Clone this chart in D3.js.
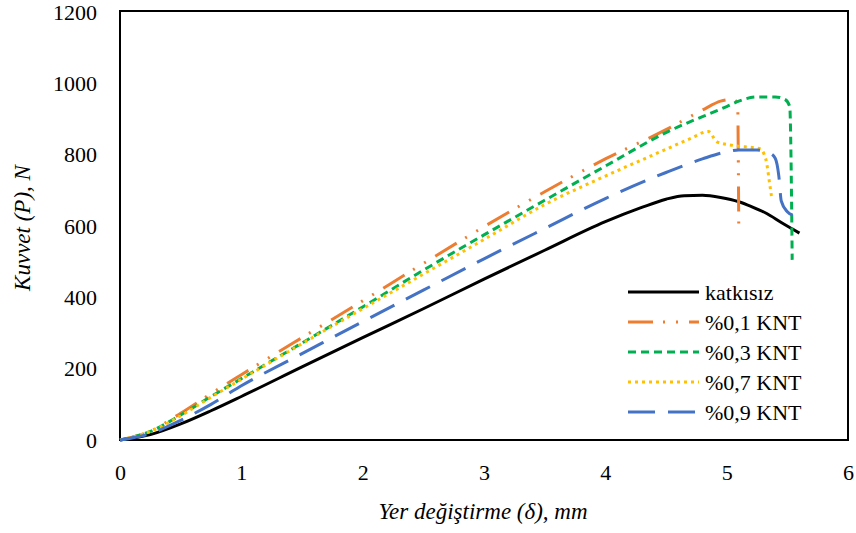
<!DOCTYPE html>
<html>
<head>
<meta charset="utf-8">
<script src="https://cdn.jsdelivr.net/npm/d3@7"></script>
<style>
  body { margin: 0; background: #fff; }
</style>
</head>
<body>
<svg id="chart" width="856" height="533"></svg>
<script>
// Series data (x: mm, y: N)
const katkisizX = [0, 0.25, 0.5, 0.75, 1, 1.5, 2, 2.5, 3, 3.5, 4, 4.3, 4.5, 4.65, 4.8, 4.95, 5.1, 5.2, 5.33, 5.45, 5.55, 5.6];
const katkisizY = [0, 15, 45, 82, 122, 205, 287, 368, 451, 532, 612, 652, 675, 685, 686, 680, 668, 655, 635, 610, 590, 580];

const knt01X = [0, 0.25, 0.5, 0.75, 1, 1.5, 2, 2.5, 3, 3.5, 4, 4.5, 4.8, 4.95, 5.05, 5.09, 5.1];
const knt01Y = [0, 25, 75, 130, 183, 287, 390, 495, 598, 696, 788, 870, 925, 950, 955, 945, 582];

const knt03X = [0, 0.25, 0.5, 0.75, 1, 1.5, 2, 2.5, 3, 3.5, 4, 4.5, 5.0, 5.1, 5.25, 5.4, 5.48, 5.52, 5.53, 5.54];
const knt03Y = [0, 24, 70, 122, 172, 272, 373, 476, 575, 672, 768, 862, 935, 950, 962, 962, 955, 935, 800, 505];

const knt07X = [0, 0.25, 0.5, 0.75, 1, 1.5, 2, 2.5, 3, 3.5, 4, 4.5, 4.7, 4.85, 4.92, 5.05, 5.28, 5.31, 5.33, 5.35, 5.37];
const knt07Y = [0, 24, 68, 120, 170, 270, 368, 465, 562, 660, 740, 815, 845, 865, 836, 826, 816, 800, 776, 729, 682];

const knt09X = [0, 0.25, 0.5, 0.75, 1, 1.5, 2, 2.5, 3, 3.5, 4, 4.5, 4.8, 5.0, 5.1, 5.25, 5.35, 5.4, 5.43, 5.45, 5.5, 5.55];
const knt09Y = [0, 18, 55, 100, 152, 242, 332, 420, 508, 593, 677, 750, 788, 808, 813, 813, 805, 790, 740, 670, 640, 630];

const seriesNames = ["katkısız", "%0,1 KNT", "%0,3 KNT", "%0,7 KNT", "%0,9 KNT"];
const xTicks = [0, 1, 2, 3, 4, 5, 6];
const yTicks = [0, 200, 400, 600, 800, 1000, 1200];

const FONT = "Liberation Serif, DejaVu Serif, serif";

const series = [
  { name: seriesNames[0], xs: katkisizX, ys: katkisizY, color: "#000000", dash: null },
  { name: seriesNames[1], xs: knt01X,    ys: knt01Y,    color: "#ED7D31", dash: "25,10,2,11,2,11" },
  { name: seriesNames[2], xs: knt03X,    ys: knt03Y,    color: "#00B050", dash: "8,5" },
  { name: seriesNames[3], xs: knt07X,    ys: knt07Y,    color: "#FFC000", dash: "3,4" },
  { name: seriesNames[4], xs: knt09X,    ys: knt09Y,    color: "#4472C4", dash: "27,13" }
];

const svg = d3.select("#chart");
const M = { left: 120, top: 11, right: 848, bottom: 440 };

const x = d3.scaleLinear().domain([0, 6]).range([M.left, M.right]);
const y = d3.scaleLinear().domain([0, 1200]).range([M.bottom, M.top + 1]);

/* ── Frame ─────────────────────────────── */
svg.append("rect")
  .attr("x", M.left).attr("y", M.top)
  .attr("width", M.right - M.left).attr("height", M.bottom - M.top)
  .attr("fill", "none").attr("stroke", "#000").attr("stroke-width", 2);

/* ── Axes (labels only, no tick marks) ─── */
const xAxis = svg.append("g")
  .attr("transform", `translate(0,${M.bottom})`)
  .call(d3.axisBottom(x).tickValues(xTicks).tickSize(0).tickPadding(24).tickFormat(d3.format("d")));
xAxis.select(".domain").remove();
xAxis.selectAll("text").attr("fill", "#000")
  .style("font-family", FONT).style("font-size", "22px");

const yAxis = svg.append("g")
  .attr("transform", `translate(${M.left},0)`)
  .call(d3.axisLeft(y).tickValues(yTicks).tickSize(0).tickPadding(23).tickFormat(d3.format("d")));
yAxis.select(".domain").remove();
yAxis.selectAll("text").attr("fill", "#000")
  .style("font-family", FONT).style("font-size", "22px");

/* ── Axis titles ───────────────────────── */
svg.append("text")
  .attr("x", 483).attr("y", 519)
  .attr("text-anchor", "middle")
  .style("font-family", FONT)
  .style("font-size", "23px").style("font-style", "italic")
  .text("Yer değiştirme (δ), mm");

svg.append("text")
  .attr("transform", "translate(30,228) rotate(-90)")
  .attr("text-anchor", "middle")
  .style("font-family", FONT)
  .style("font-size", "23px").style("font-style", "italic")
  .text("Kuvvet (P), N");

/* ── Lines ─────────────────────────────── */
const line = d3.line()
  .x(d => x(d[0]))
  .y(d => y(d[1]))
  .curve(d3.curveMonotoneX);

const lines = svg.append("g");
for (const s of series) {
  const pts = s.xs.map((v, i) => [v, s.ys[i]]);
  lines.append("path")
    .attr("d", line(pts))
    .attr("fill", "none")
    .attr("stroke", s.color)
    .attr("stroke-width", 3)
    .attr("stroke-linejoin", "round")
    .attr("stroke-dasharray", s.dash);
}

/* ── Legend ────────────────────────────── */
const legend = svg.append("g").attr("transform", "translate(628,292)");
series.forEach((s, i) => {
  const row = legend.append("g").attr("transform", `translate(0,${i * 30})`);
  row.append("line")
    .attr("x1", 0).attr("x2", 71).attr("y1", 0).attr("y2", 0)
    .attr("stroke", s.color).attr("stroke-width", 3)
    .attr("stroke-dasharray", s.dash);
  row.append("text")
    .attr("x", 77).attr("y", 8)
    .style("font-family", FONT)
    .style("font-size", "22px")
    .text(s.name);
});
</script>
</body>
</html>
